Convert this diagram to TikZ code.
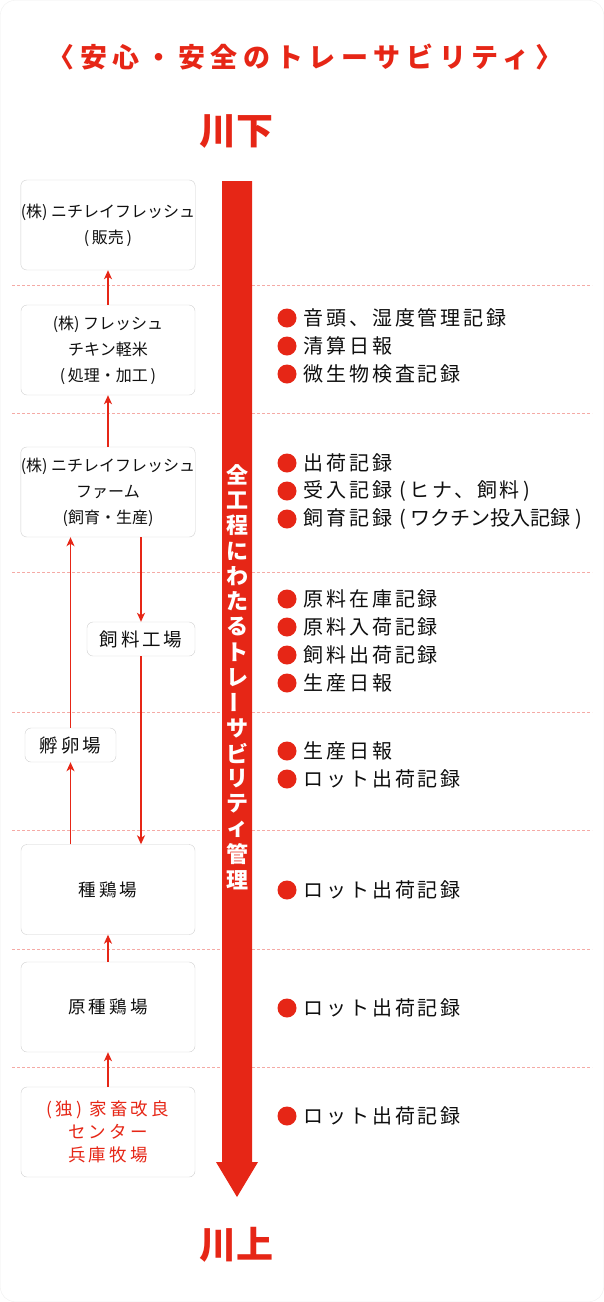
\documentclass[tikz,border=0pt]{standalone}
\usepackage{fontspec}
\setmainfont{Noto Sans CJK JP}
\usetikzlibrary{positioning}
\usetikzlibrary{arrows.meta}

\definecolor{kred}{RGB}{230,38,22}
\definecolor{dashpink}{RGB}{245,170,165}
\definecolor{boxgray}{RGB}{208,208,208}
\definecolor{ink}{RGB}{15,15,15}

\tikzset{
  stage/.style={draw=boxgray, fill=white, rounded corners=6pt, minimum width=174pt, minimum height=90pt,
    inner sep=0pt, align=center, text=ink, font=\fontsize{16}{26}\selectfont},
  smallstage/.style={draw=boxgray, fill=white, rounded corners=6pt, minimum height=34pt,
    inner sep=0pt, text=ink, font=\fontsize{18.5}{18}\selectfont\addfontfeature{LetterSpace=16}},
  widestage/.style={stage, font=\fontsize{17.5}{23}\selectfont\addfontfeature{LetterSpace=18}},
  flow/.style={draw=kred, line width=1.3pt, -{Stealth[length=9pt,width=8pt,inset=2.5pt]}},
  dot/.style={circle, fill=kred, minimum size=19pt, inner sep=0pt},
  rec/.style={anchor=west, inner sep=0pt, text=ink, font=\fontsize{20}{20}\selectfont\addfontfeature{LetterSpace=14}},
  vch/.style={inner sep=0pt, text=white, font=\fontsize{22}{22}\selectfont\bfseries},
  sep/.style={draw=dashpink, line width=0.7pt, dash pattern=on 2.5pt off 2.5pt}
}

\begin{document}
\begin{tikzpicture}[x=1pt,y=-1pt]
  \useasboundingbox (0,0) rectangle (604,1302);
  \draw[draw=black!6, fill=white, rounded corners=14pt] (0.5,0.5) rectangle (603.5,1301.5);

  % separators
  \foreach \y in {285,413,572,712,830,949,1067} {
    \draw[sep] (12,\y) -- (592,\y);
  }

  % headings
  \node[text=kred, font=\fontsize{27}{27}\selectfont\bfseries\addfontfeature{LetterSpace=21}] (title) at (305,57) {〈安心・安全のトレーサビリティ〉};
  \node[text=kred, font=\fontsize{37}{37}\selectfont\bfseries] (down) at (236,131) {川下};
  \node[text=kred, font=\fontsize{37}{37}\selectfont\bfseries] (up) at (236,1245) {川上};

  % big arrow
  \fill[kred] (222,181) -- (252,181) -- (252,1162) -- (258,1162) -- (237,1197) -- (216,1162) -- (222,1162) -- cycle;
  \foreach \c [count=\i] in {全,工,程,に,わ,た,る,ト,レ,{\rotatebox{90}{ー}},サ,ビ,リ,テ,ィ,管,理} {
    \node[vch] (v\i) at (237, 475+25.3*\i-25.3) {\c};
  }

  % stages
  \node[stage] (sale) at (108,225) {(株) ニチレイフレッシュ\\(\,販売\,)};
  \node[stage] (plant) at (108,350) {(株) フレッシュ\\チキン軽米\\(\,処理・加工\,)};
  \node[stage] (farm) at (108,492) {(株) ニチレイフレッシュ\\ファーム\\(飼育・生産)};
  \node[smallstage, minimum width=108pt] (feed) at (141,639) {飼料工場};
  \node[smallstage, minimum width=91pt] (hatch) at (70.5,745) {孵卵場};
  \node[widestage] (breed) at (108,889.5) {種鶏場};
  \node[widestage] (gp) at (108,1007) {原種鶏場};
  \node[widestage, text=kred] (nlbc) at (108,1132) {(独) 家畜改良\\センター\\兵庫牧場};

  \draw[flow] (plant.north) -- (sale.south);
  \draw[flow] (farm.north) -- (plant.south);
  \draw[flow] (feed.north |- farm.south) -- (feed.north);
  \draw[flow] (hatch.north) -- (hatch.north |- farm.south);
  \draw[flow] (feed.south) -- (feed.south |- breed.north);
  \draw[flow] (hatch.south |- breed.north) -- (hatch.south);
  \draw[flow] (gp.north) -- (breed.south);
  \draw[flow] (nlbc.north) -- (gp.south);

  % records
  \foreach \y/\t [count=\k] in {318/音頭、湿度管理記録, 346/清算日報, 374/微生物検査記録,
      463/出荷記録, 491/受入記録 (\,ヒナ、飼料\,), 519/飼育記録\ {\addfontfeature{LetterSpace=0}(\ ワクチン投入記録\ )},
      599/原料在庫記録, 627/原料入荷記録, 655/飼料出荷記録, 683/生産日報,
      751/生産日報, 779/ロット出荷記録,
      890/ロット出荷記録, 1008/ロット出荷記録, 1116/ロット出荷記録} {
    \node[dot] (d\k) at (287,\y) {};
    \node[rec, right=7pt of d\k] (r\k) {\t};
  }
\end{tikzpicture}
\end{document}
